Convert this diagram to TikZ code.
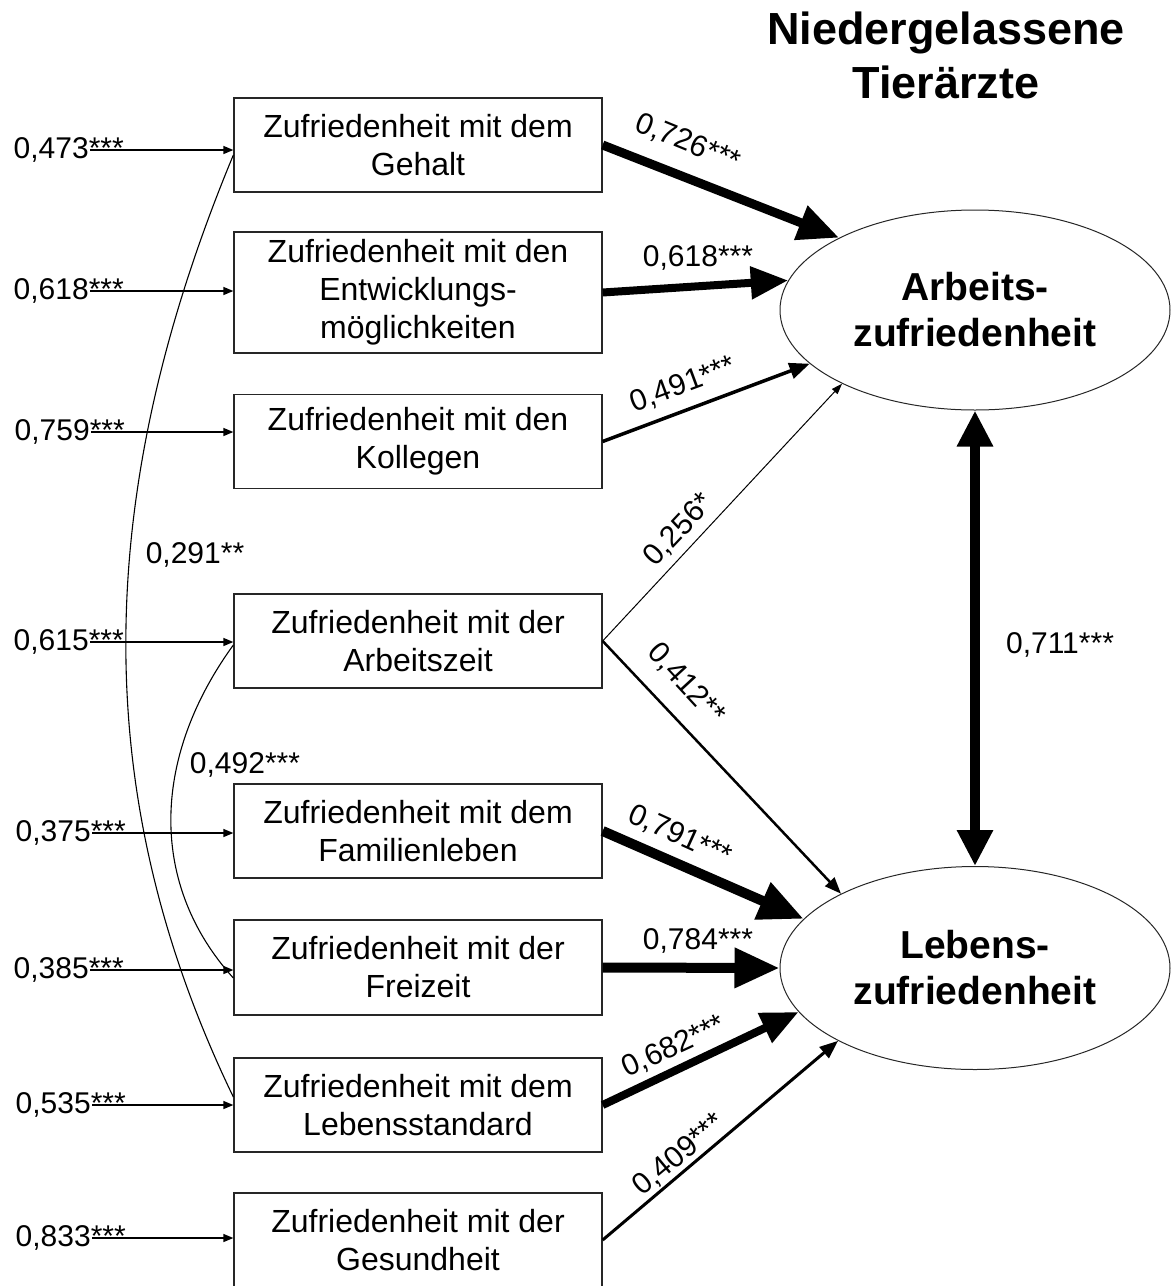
\documentclass[tikz,border=0pt]{standalone}
\usepackage{fontspec}
\setmainfont{Liberation Sans}
\usetikzlibrary{arrows.meta, positioning, shapes.geometric}
\tikzset{
    itembox/.style={rectangle, draw=black!85, line width=1.3pt, minimum width=368pt, minimum height=94pt, inner sep=0pt, align=center, font=\fontsize{32}{38}\selectfont},
    latentnode/.style={ellipse, draw=black!85, line width=1pt, minimum width=390pt, minimum height=200pt, inner sep=0pt, align=center, font=\fontsize{39}{46}\selectfont\bfseries},
    coeflabel/.style={inner sep=1pt, font=\fontsize{30}{36}\selectfont},
    errlabel/.style={anchor=east, inner sep=1pt, font=\fontsize{30}{36}\selectfont},
    errarrow/.style={-{Triangle[length=10pt,width=8pt]}, line width=1.4pt},
    patharrow/.style={-{Triangle[length=7pt 3.8, width=4pt 3.4]}, line width=#1},
    corrline/.style={line width=1.1pt}
}

\begin{document}
\begin{tikzpicture}[x=1pt, y=-1pt]
    \useasboundingbox (0,0) rectangle (1171,1286);
    \node[font=\fontsize{45}{54}\selectfont\bfseries, align=center] (titel) at (946,55) {Niedergelassene\\Tierärzte};

    \node[itembox] (geh) at (418,145) {Zufriedenheit mit dem\\Gehalt};
    \node[itembox, minimum height=121pt] (ent) at (418,292.5) {Zufriedenheit mit den\\Entwicklungs-\\möglichkeiten};
    \node[itembox] (kol) at (418,441.5) {Zufriedenheit mit den\\Kollegen};
    \node[itembox] (azt) at (418,641) {Zufriedenheit mit der\\Arbeitszeit};
    \node[itembox] (fam) at (418,831) {Zufriedenheit mit dem\\Familienleben};
    \node[itembox, minimum height=95pt] (frz) at (418,967.5) {Zufriedenheit mit der\\Freizeit};
    \node[itembox] (lst) at (418,1105) {Zufriedenheit mit dem\\Lebensstandard};
    \node[itembox] (ges) at (418,1240) {Zufriedenheit mit der\\Gesundheit};

    \node[latentnode] (az) at (975,310) {Arbeits-\\zufriedenheit};
    \node[latentnode, minimum height=203pt] (lz) at (975,968) {Lebens-\\zufriedenheit};

    % Residuals
    \node[errlabel] (e1) at (90,150) {0,473\rlap{***}};
    \node[errlabel] (e2) at (90,291) {0,618\rlap{***}};
    \node[errlabel] (e3) at (91,432) {0,759\rlap{***}};
    \node[errlabel] (e4) at (90,642) {0,615\rlap{***}};
    \node[errlabel] (e5) at (92,833) {0,375\rlap{***}};
    \node[errlabel] (e6) at (90,970) {0,385\rlap{***}};
    \node[errlabel] (e7) at (92,1105) {0,535\rlap{***}};
    \node[errlabel] (e8) at (92,1238) {0,833\rlap{***}};
    \draw[errarrow] (e1.east) -- (e1.east -| geh.west);
    \draw[errarrow] (e2.east) -- (e2.east -| ent.west);
    \draw[errarrow] (e3.east) -- (e3.east -| kol.west);
    \draw[errarrow] (e4.east) -- (e4.east -| azt.west);
    \draw[errarrow] (e5.east) -- (e5.east -| fam.west);
    \draw[errarrow] (e6.east) -- (e6.east -| frz.west);
    \draw[errarrow] (e7.east) -- (e7.east -| lst.west);
    \draw[errarrow] (e8.east) -- (e8.east -| ges.west);

    % Correlations
    \draw[corrline] ([yshift=-10pt]geh.west) .. controls (90,500) and (90,800) .. ([yshift=8pt]lst.west);
    \draw[corrline] ([yshift=-4pt]azt.west) .. controls (150,760) and (150,886) .. ([yshift=-10.5pt]frz.west);
    \node[coeflabel] (c291) at (195,555) {0,291**};
    \node[coeflabel] (c492) at (245,765) {0,492***};

    % Paths to Arbeitszufriedenheit
    \draw[patharrow=9pt] (geh.east) -- (az.152.5);
    \draw[patharrow=8pt] (ent.east) -- (az.171.7);
    \draw[patharrow=3.5pt] (kol.east) -- (az.198.6);
    \draw[patharrow=1pt] (azt.east) -- (az.209.2);
    \node[coeflabel, rotate=-22.3] (l726) at (688,143) {0,726***};
    \node[coeflabel] (l618) at (698,258) {0,618***};
    \node[coeflabel, rotate=20.4] (l491) at (683,385) {0,491***};
    \node[coeflabel, rotate=46.8] (l256) at (679,530) {0,256*};

    % Paths to Lebenszufriedenheit
    \draw[patharrow=2.5pt] (azt.east) -- (lz.151.9);
    \draw[patharrow=10pt] (fam.east) -- (lz.164.9);
    \draw[patharrow=10pt] (frz.east) -- (lz.180);
    \draw[patharrow=8pt] (lst.east) -- (lz.194.8);
    \draw[patharrow=3pt] (ges.east) -- (lz.208.4);
    \node[coeflabel, rotate=-47.3] (l412) at (686,684) {0,412**};
    \node[coeflabel, rotate=-24.4] (l791) at (680,836) {0,791***};
    \node[coeflabel] (l784) at (698,941) {0,784***};
    \node[coeflabel, rotate=24.9] (l682) at (674,1047) {0,682***};
    \node[coeflabel, rotate=39.8] (l409) at (679,1155) {0,409***};

    % Latent correlation
    \draw[{Triangle[length=36pt,width=34pt]}-{Triangle[length=36pt,width=34pt]}, line width=10pt] (az.south) -- (lz.north);
    \node[coeflabel] (l711) at (1060,645) {0,711***};
\end{tikzpicture}
\end{document}
